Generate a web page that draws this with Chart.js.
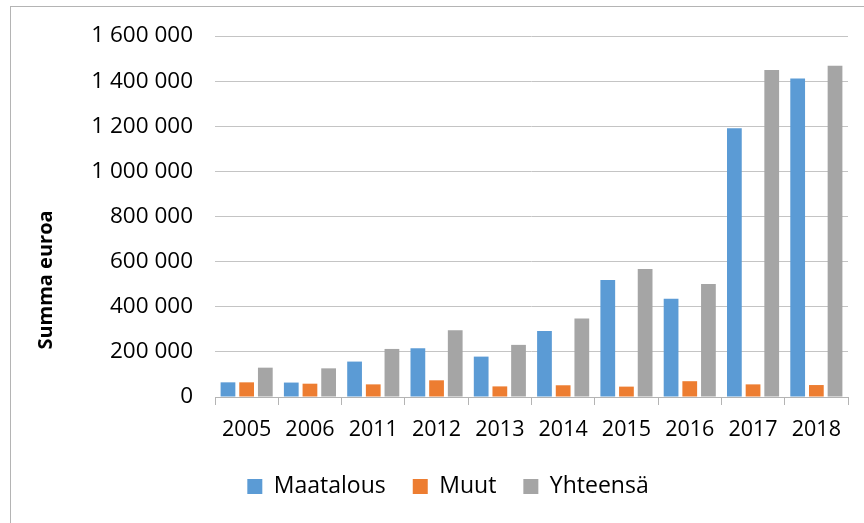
<!DOCTYPE html>
<html>
<head>
<meta charset="utf-8">
<script src="https://cdn.jsdelivr.net/npm/chart.js@4/dist/chart.umd.min.js"></script>
<style>
  html, body { margin: 0; padding: 0; background: #fff; overflow: hidden; }
  #wrap { position: relative; width: 864px; height: 523px; }
  #frame { position: absolute; left: 10px; top: 6px; width: 900px; height: 600px; border: 1px solid #b4b4b4; box-sizing: border-box; }
  canvas { position: absolute; left: 0; top: 0; }
</style>
</head>
<body>
<div id="wrap">
  <div id="frame"></div>
  <canvas id="chart" width="864" height="523"></canvas>
</div>
<script>
const years = ['2005', '2006', '2011', '2012', '2013', '2014', '2015', '2016', '2017', '2018'];
const maatalous = [65000, 64000, 157000, 216000, 179000, 293000, 519000, 436000, 1191000, 1412000];
const muut = [65000, 59000, 56000, 74000, 47000, 52000, 46000, 70000, 56000, 53000];
const yhteensa = [130000, 127000, 213000, 296000, 231000, 348000, 567000, 501000, 1449000, 1468000];
const yMax = 1600000;
const yStep = 200000;

const font = 'Open Sans';

function spaced(v) {
  return String(v).replace(/\B(?=(\d{3})+(?!\d))/g, ' ');
}

// axis title sits below the plot centre in the original, so it is drawn by hand
const yTitle = {
  id: 'yTitle',
  afterDraw(chart) {
    const ctx = chart.ctx;
    ctx.save();
    ctx.translate(46, 280);
    ctx.rotate(-Math.PI / 2);
    ctx.font = 'bold 20px "' + font + '"';
    ctx.fillStyle = '#000';
    ctx.textAlign = 'center';
    ctx.textBaseline = 'middle';
    ctx.fillText('Summa euroa', 0, 0);
    ctx.restore();
  }
};

new Chart(document.getElementById('chart'), {
  type: 'bar',
  data: {
    labels: years,
    datasets: [
      { label: 'Maatalous', data: maatalous, backgroundColor: '#5B9BD5' },
      { label: 'Muut', data: muut, backgroundColor: '#ED7D31' },
      { label: 'Yhteensä', data: yhteensa, backgroundColor: '#A5A5A5' }
    ]
  },
  options: {
    responsive: false,
    animation: false,
    devicePixelRatio: 1,
    datasets: {
      bar: { categoryPercentage: 0.885, barPercentage: 0.79 }
    },
    layout: { padding: { left: 48, right: 16, top: 36, bottom: 15 } },
    plugins: {
      tooltip: { enabled: false },
      legend: {
        position: 'bottom',
        labels: {
          color: '#000',
          font: { family: font, size: 23 },
          boxWidth: 15,
          boxHeight: 15,
          padding: 27
        }
      }
    },
    scales: {
      x: {
        grid: { display: true, drawOnChartArea: false, color: '#b4b4b4', tickLength: 8 },
        border: { color: '#b4b4b4' },
        ticks: { color: '#000', font: { family: font, size: 21.5 }, padding: 12, maxRotation: 0 },
        afterFit(scale) { scale.height = 51; }
      },
      y: {
        min: 0,
        max: yMax,
        grid: { color: '#c4c4c4', drawTicks: false },
        border: { display: false },
        ticks: {
          stepSize: yStep,
          color: '#000',
          font: { family: font, size: 22.5 },
          padding: 22,
          callback: v => spaced(v)
        },
        afterFit(scale) { scale.width = 167; }
      }
    }
  },
  plugins: [yTitle]
});
</script>
</body>
</html>
